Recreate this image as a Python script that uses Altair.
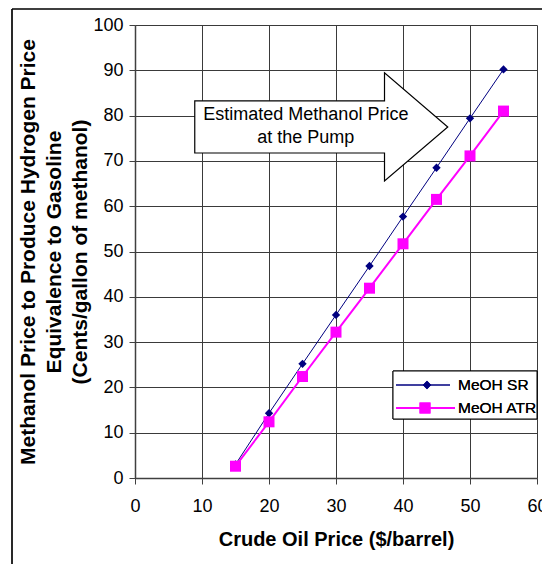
import altair as alt
import pandas as pd

# Crude oil price ($/barrel) and methanol price (cents/gallon) for each process
crude_price = [15, 20, 25, 30, 35, 40, 45, 50, 55]
meoh_sr = [3.0, 14.3, 25.2, 36.0, 46.8, 57.7, 68.5, 79.4, 90.2]
meoh_atr = [2.6, 12.4, 22.4, 32.2, 41.9, 51.7, 61.5, 71.1, 81.0]
series_names = ["MeOH SR", "MeOH ATR"]

x_ticks = [0, 10, 20, 30, 40, 50, 60]
y_ticks = [0, 10, 20, 30, 40, 50, 60, 70, 80, 90, 100]

arrow_label = ["Estimated Methanol Price", "at the Pump"]
x_title = "Crude Oil Price ($/barrel)"
y_title = [
    "Methanol Price to Produce Hydrogen Price",
    "Equivalence to Gasoline",
    "(Cents/gallon of methanol)",
]

FONT = "Liberation Sans"
NAVY = "#000080"
MAGENTA = "#FF00FF"

sr_df = pd.DataFrame({"crude": crude_price, "price": meoh_sr})
atr_df = pd.DataFrame({"crude": crude_price, "price": meoh_atr})

x_scale = alt.Scale(domain=[0, 60], nice=False, zero=True)
y_scale = alt.Scale(domain=[0, 100], nice=False, zero=True)

x_axis = alt.Axis(
    values=x_ticks, title=x_title, grid=True, tickSize=6, labelPadding=13,
    titlePadding=14, labelFontSize=18, titleFontSize=20, titleFontWeight="bold",
    labelFont=FONT, titleFont=FONT, labelColor="black", titleColor="black",
    gridColor="#3a3a3a", gridWidth=1, domainColor="#404040", domainWidth=1.5,
    tickColor="#404040", labelFlush=False,
)
y_axis = alt.Axis(
    values=y_ticks, title=y_title, grid=True, tickSize=6, labelPadding=6,
    titlePadding=2, labelFontSize=18, titleFontSize=21, titleFontWeight="bold",
    titleLineHeight=26, labelFont=FONT, titleFont=FONT, labelColor="black",
    titleColor="black", gridColor="#3a3a3a", gridWidth=1, domainColor="#404040",
    domainWidth=1.5, tickColor="#404040", labelFlush=False,
)

x_enc = alt.X("crude:Q", scale=x_scale, axis=x_axis)
y_enc = alt.Y("price:Q", scale=y_scale, axis=y_axis)

sr_line = alt.Chart(sr_df).mark_line(color=NAVY, strokeWidth=1).encode(x=x_enc, y=y_enc)
sr_pts = alt.Chart(sr_df).mark_point(
    shape="diamond", filled=True, color=NAVY, size=70, opacity=1
).encode(x="crude:Q", y="price:Q")

atr_line = alt.Chart(atr_df).mark_line(color=MAGENTA, strokeWidth=2).encode(x="crude:Q", y="price:Q")
atr_pts = alt.Chart(atr_df).mark_point(
    shape="square", filled=True, color=MAGENTA, size=121, opacity=1
).encode(x="crude:Q", y="price:Q")

# Block arrow callout placed in data coordinates
ann_df = pd.DataFrame({"crude": [27.8], "price": [77.5], "tx": [25.5], "ty": [80.1]})
arrow_path = "M -1 -0.206 L 0.5 -0.206 L 0.5 -0.427 L 1 0 L 0.5 0.427 L 0.5 0.206 L -1 0.206 Z"
arrow = alt.Chart(ann_df).mark_point(
    shape=arrow_path, size=64009, filled=True, fill="white", stroke="black",
    strokeWidth=1.2, opacity=1, fillOpacity=1,
).encode(x="crude:Q", y="price:Q")
arrow_text = alt.Chart(ann_df).mark_text(
    text=arrow_label, font=FONT, fontSize=18, color="black", align="center",
    baseline="middle", lineHeight=23,
).encode(x="tx:Q", y="ty:Q")

# Legend box drawn inside the plot
leg_df = pd.DataFrame({"series": series_names})
leg_box = alt.Chart(leg_df).mark_rect(fill="white", stroke="black", strokeWidth=1).encode(
    x=alt.value(258), x2=alt.value(402), y=alt.value(346), y2=alt.value(394)
)
leg_sr_line = alt.Chart(leg_df).mark_rule(color=NAVY, strokeWidth=1).encode(
    x=alt.value(261), x2=alt.value(315), y=alt.value(360)
)
leg_sr_pt = alt.Chart(leg_df).mark_point(
    shape="diamond", filled=True, color=NAVY, size=70, opacity=1
).encode(x=alt.value(292), y=alt.value(360))
leg_sr_txt = alt.Chart(leg_df).mark_text(
    text=series_names[0], font=FONT, fontSize=15.5, align="left", baseline="middle", color="black"
).encode(x=alt.value(323), y=alt.value(360))
leg_atr_line = alt.Chart(leg_df).mark_rule(color=MAGENTA, strokeWidth=2).encode(
    x=alt.value(261), x2=alt.value(320), y=alt.value(383)
)
leg_atr_pt = alt.Chart(leg_df).mark_point(
    shape="square", filled=True, color=MAGENTA, size=121, opacity=1
).encode(x=alt.value(290), y=alt.value(383))
leg_atr_txt = alt.Chart(leg_df).mark_text(
    text=series_names[1], font=FONT, fontSize=15.5, align="left", baseline="middle", color="black"
).encode(x=alt.value(323), y=alt.value(383))

# Outer chart-area frame
frame_left = alt.Chart(leg_df).mark_rule(color="black", strokeWidth=1.2).encode(
    x=alt.value(-123), y=alt.value(-16), y2=alt.value(620)
)
frame_top = alt.Chart(leg_df).mark_rule(color="black", strokeWidth=1.2).encode(
    x=alt.value(-123), x2=alt.value(520), y=alt.value(-16)
)

chart = alt.layer(
    sr_line, atr_line, sr_pts, atr_pts, arrow, arrow_text,
    leg_box, leg_sr_line, leg_sr_pt, leg_sr_txt, leg_atr_line, leg_atr_pt, leg_atr_txt,
    frame_left, frame_top,
).properties(
    width=402,
    height=453,
    autosize=alt.AutoSizeParams(type="none"),
    padding={"left": 135, "top": 25, "right": 5, "bottom": 86},
    background="white",
).configure_view(strokeWidth=0)

chart.save("out.html", embed_options={"renderer": "svg", "actions": False})
